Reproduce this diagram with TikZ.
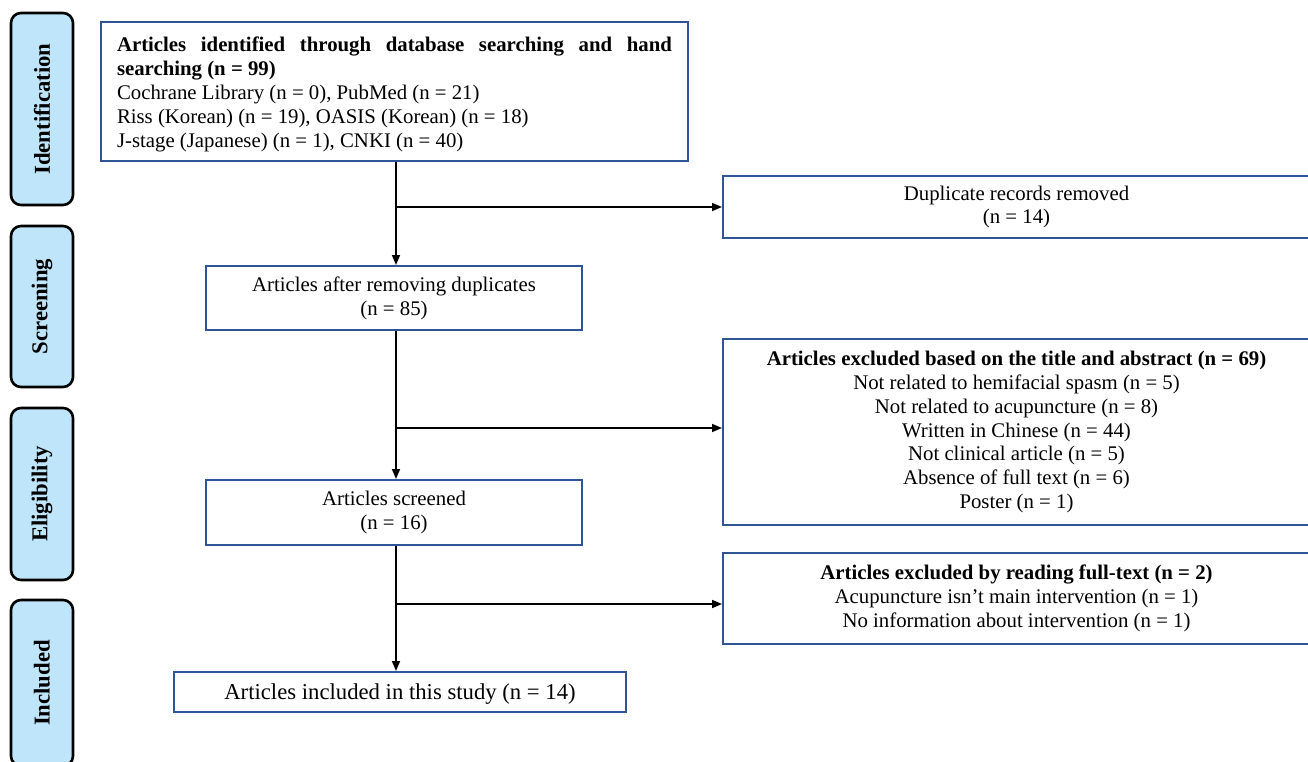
\documentclass[tikz,border=0pt]{standalone}
\usepackage{fontspec}
\setmainfont{Liberation Serif}
\usetikzlibrary{arrows.meta}
\definecolor{boxblue}{RGB}{47,85,151}
\definecolor{phasefill}{RGB}{190,229,249}
\begin{document}
\begin{tikzpicture}[x=1pt,y=-1pt,
  body/.style={font=\fontsize{20.8}{23.9}\selectfont},
  flowbox/.style={draw=boxblue,line width=2pt,rectangle,inner sep=0pt,align=center,body,
     execute at begin node={\rule{0pt}{20.5pt}}},
  phase/.style={draw=black,line width=2.6pt,fill=phasefill,rounded corners=10pt,rotate=90,
     minimum height=62pt,inner sep=0pt,font=\fontsize{22.7}{26}\selectfont\bfseries},
  arr/.style={line width=1.6pt,-{Triangle[length=10pt,width=8pt]}},
  ln/.style={line width=1.6pt}]
\useasboundingbox (0,0) rectangle (1308,761);
% phase labels
\node[phase,minimum width=192pt] (pid) at (42,109) {Identification};
\node[phase,minimum width=161pt] (psc) at (42,306.5) {Screening};
\node[phase,minimum width=172pt] (pel) at (42,494) {Eligibility};
\node[phase,minimum width=166pt] (pin) at (42,683) {Included};
% flow boxes
\node[flowbox,minimum width=587pt,minimum height=139pt,text width=555pt,align=justify] (top) at (394.5,91.5)
 {\textbf{Articles identified through database searching and hand\linebreak searching (n = 99)}\\
 Cochrane Library (n = 0), PubMed (n = 21)\\
 Riss (Korean) (n = 19), OASIS (Korean) (n = 18)\\
 J-stage (Japanese) (n = 1), CNKI (n = 40)};
\node[flowbox,minimum width=587pt,minimum height=62pt] (dup) at (1016.5,207)
 {Duplicate records removed\\(n = 14)};
\node[flowbox,minimum width=376pt,minimum height=64pt] (scr1) at (394,298)
 {Articles after removing duplicates\\(n = 85)};
\node[flowbox,minimum width=587pt,minimum height=186pt] (ex1) at (1016.5,432)
 {\textbf{Articles excluded based on the title and abstract (n = 69)}\\
 Not related to hemifacial spasm (n = 5)\\
 Not related to acupuncture (n = 8)\\
 Written in Chinese (n = 44)\\
 Not clinical article (n = 5)\\
 Absence of full text (n = 6)\\
 Poster (n = 1)};
\node[flowbox,minimum width=376pt,minimum height=65pt] (scr2) at (394,512.5)
 {Articles screened\\(n = 16)};
\node[flowbox,minimum width=587pt,minimum height=91pt] (ex2) at (1016.5,598.5)
 {\textbf{Articles excluded by reading full-text (n = 2)}\\
 Acupuncture isn’t main intervention (n = 1)\\
 No information about intervention (n = 1)};
\node[flowbox,minimum width=452pt,minimum height=40pt,font=\fontsize{22.7}{26}\selectfont,
  execute at begin node={\rule{0pt}{19pt}}] (inc) at (400,692)
 {Articles included in this study (n = 14)};
% connectors
\coordinate (sp) at (396,0);
\coordinate (b1) at (396,207);
\coordinate (b2) at (396,428);
\coordinate (b3) at (396,604);
\draw[arr] (top.south -| sp) -- (scr1.north -| sp);
\draw[arr] (b1) -- (b1 -| dup.west);
\draw[arr] (scr1.south -| sp) -- (scr2.north -| sp);
\draw[arr] (b2) -- (b2 -| ex1.west);
\draw[arr] (scr2.south -| sp) -- (inc.north -| sp);
\draw[arr] (b3) -- (b3 -| ex2.west);
\end{tikzpicture}
\end{document}
